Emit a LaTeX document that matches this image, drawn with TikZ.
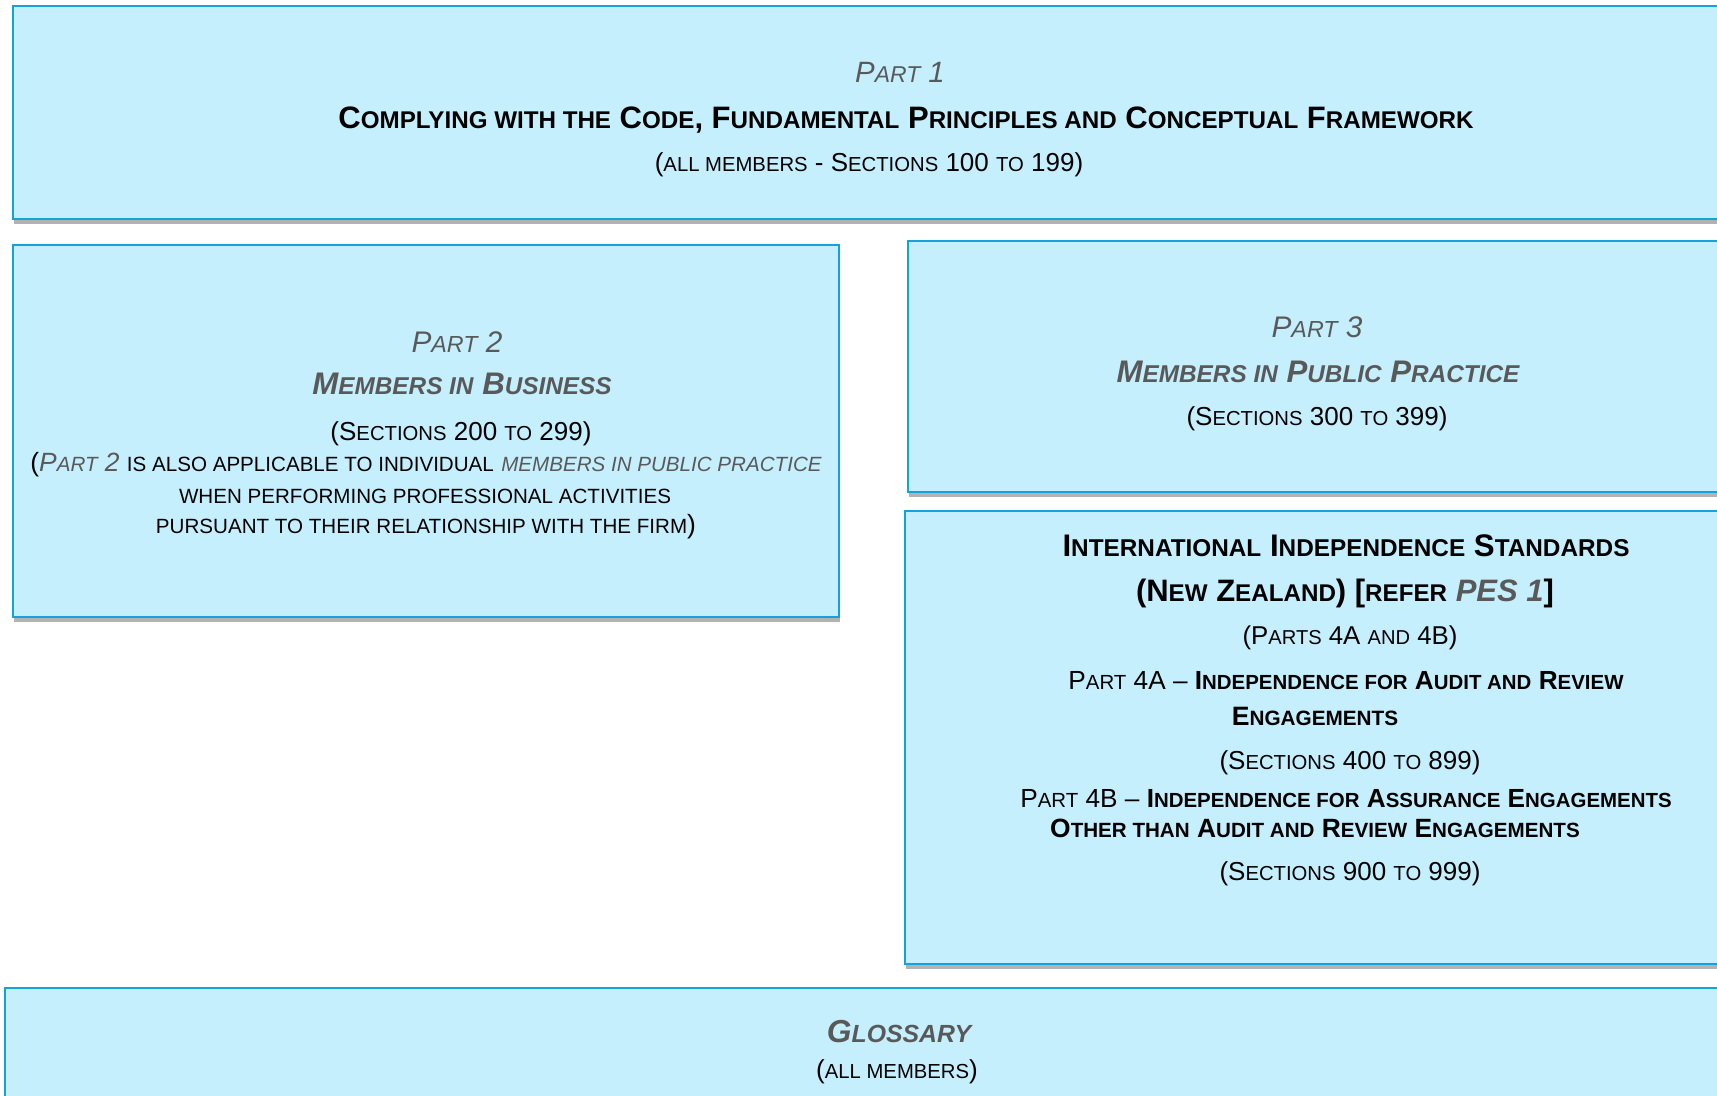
\documentclass[tikz,border=0pt]{standalone}
\usepackage{fontspec}
\setmainfont{Liberation Sans}
\usetikzlibrary{shadows}
\definecolor{panelfill}{RGB}{198,239,254}
\definecolor{panelblue}{RGB}{20,162,220}
\definecolor{txtgray}{RGB}{89,89,89}
% fake small caps and font size
\newcommand\smc[1]{\scalebox{0.78}{#1}}
\newcommand\fsz[1]{\fontsize{#1}{#1}\selectfont}
\newcommand\gry[1]{\textcolor{txtgray}{#1}}
\tikzset{
  panel/.style={draw=panelblue,line width=1pt,fill=panelfill,
    drop shadow={shadow xshift=0.5pt,shadow yshift=-2.6pt,opacity=0.3,fill=black}},
  txt/.style={anchor=base,inner sep=0pt},
}
\begin{document}
\begin{tikzpicture}[x=0.5pt,y=-0.5pt]
\path[use as bounding box,clip] (0,0) rectangle (1717,1096);
% panels
\draw[panel] (13,6) rectangle (1745,219);
\draw[panel] (13,245) rectangle (839,617);
\draw[panel] (908,241) rectangle (1745,492);
\draw[panel] (905,511) rectangle (1745,964);
\draw[panel] (5,988) rectangle (1745,1120);
% part 1
\node[txt] (p1title) at (900,83) {\fsz{14.7}\itshape\gry{P\smc{ART} 1}};
\node[txt] (p1name) at (906,129) {\fsz{15.5}\bfseries C\smc{OMPLYING WITH THE} C\smc{ODE}, F\smc{UNDAMENTAL} P\smc{RINCIPLES AND} C\smc{ONCEPTUAL} F\smc{RAMEWORK}};
\node[txt] (p1sect) at (869,172) {\fsz{13}(\smc{ALL MEMBERS} - S\smc{ECTIONS} 100 \smc{TO} 199)};
% part 2
\node[txt] (p2title) at (457,352) {\fsz{14.9}\itshape\gry{P\smc{ART} 2}};
\node[txt] (p2name) at (462,394) {\fsz{15.6}\bfseries\itshape\gry{M\smc{EMBERS IN} B\smc{USINESS}}};
\node[txt] (p2sect) at (461,440) {\fsz{13}(S\smc{ECTIONS} 200 \smc{TO} 299)};
\node[txt] (p2noteA) at (426,471) {\fsz{13.2}(\gry{\itshape P\smc{ART} 2} \smc{IS ALSO APPLICABLE TO INDIVIDUAL} \gry{\itshape\smc{MEMBERS IN PUBLIC PRACTICE}}};
\node[txt] (p2noteB) at (425,503) {\fsz{13.2}\smc{WHEN PERFORMING PROFESSIONAL ACTIVITIES}};
\node[txt] (p2noteC) at (426,533) {\fsz{13.2}\smc{PURSUANT TO THEIR RELATIONSHIP WITH THE FIRM})};
% part 3
\node[txt] (p3title) at (1317,337) {\fsz{14.9}\itshape\gry{P\smc{ART} 3}};
\node[txt] (p3name) at (1318,382) {\fsz{15.6}\bfseries\itshape\gry{M\smc{EMBERS IN} P\smc{UBLIC} P\smc{RACTICE}}};
\node[txt] (p3sect) at (1317,425) {\fsz{13}(S\smc{ECTIONS} 300 \smc{TO} 399)};
% independence standards
\node[txt] (iisA) at (1346,556) {\fsz{15.6}\bfseries I\smc{NTERNATIONAL} I\smc{NDEPENDENCE} S\smc{TANDARDS}};
\node[txt] (iisB) at (1345,601) {\fsz{15.5}\bfseries (N\smc{EW} Z\smc{EALAND}) [\smc{REFER} \gry{\itshape PES 1}]};
\node[txt] (iisC) at (1350,644) {\fsz{12.9}(P\smc{ARTS} 4A \smc{AND} 4B)};
\node[txt] (p4aA) at (1346,689) {\fsz{13.1}P\smc{ART} 4A -- {\bfseries I\smc{NDEPENDENCE FOR} A\smc{UDIT AND} R\smc{EVIEW}}};
\node[txt] (p4aB) at (1315,725) {\fsz{13.3}\bfseries E\smc{NGAGEMENTS}};
\node[txt] (p4aS) at (1350,769) {\fsz{13}(S\smc{ECTIONS} 400 \smc{TO} 899)};
\node[txt] (p4bA) at (1346,807) {\fsz{13.1}P\smc{ART} 4B -- {\bfseries I\smc{NDEPENDENCE FOR} A\smc{SSURANCE} E\smc{NGAGEMENTS}}};
\node[txt] (p4bB) at (1315,837) {\fsz{13.2}\bfseries O\smc{THER THAN} A\smc{UDIT AND} R\smc{EVIEW} E\smc{NGAGEMENTS}};
\node[txt] (p4bS) at (1350,880) {\fsz{13}(S\smc{ECTIONS} 900 \smc{TO} 999)};
% glossary
\node[txt] (glosA) at (899,1042) {\fsz{15.9}\bfseries\itshape\gry{G\smc{LOSSARY}}};
\node[txt] (glosB) at (897,1078) {\fsz{13}(\smc{ALL MEMBERS})};
\end{tikzpicture}
\end{document}
